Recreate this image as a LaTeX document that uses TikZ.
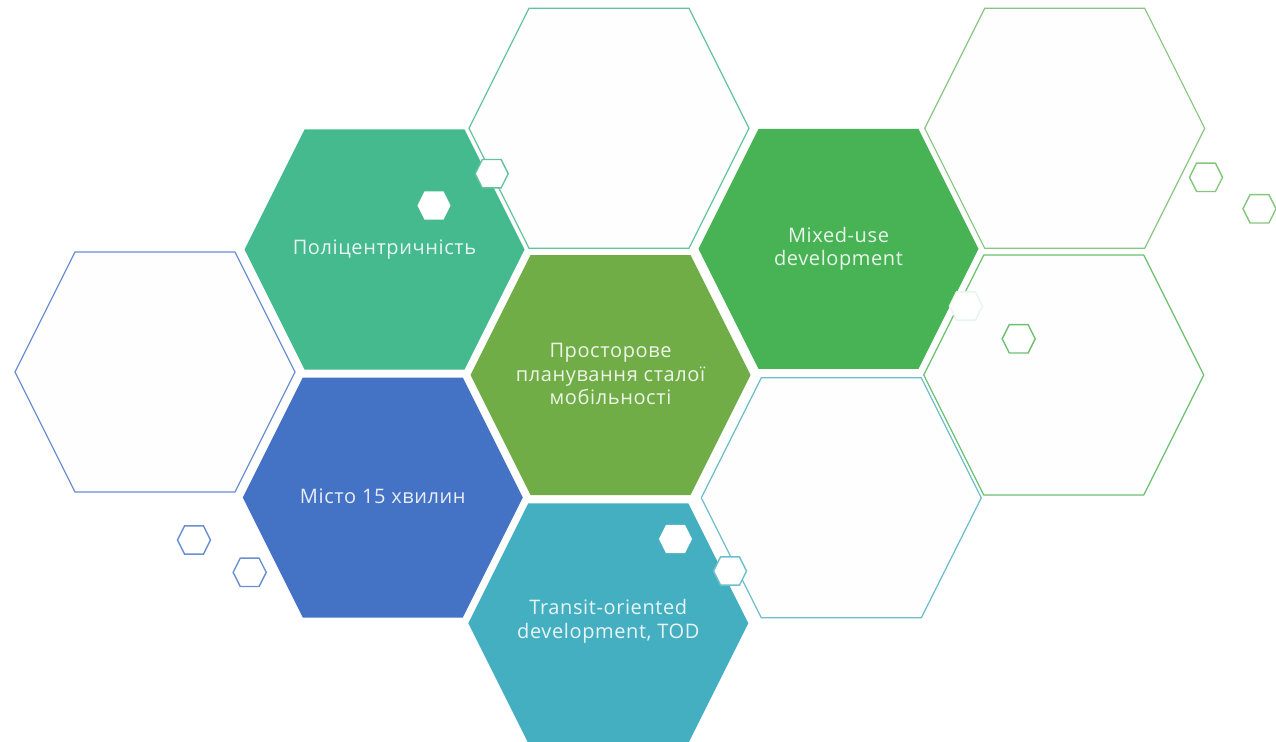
\documentclass[tikz,border=0pt]{standalone}
\usepackage{fontspec}
\setmainfont{Open Sans}[LetterSpace=3]

\definecolor{polyfill}{HTML}{44BA8E}
\definecolor{mixfill}{HTML}{47B354}
\definecolor{corefill}{HTML}{70AD47}
\definecolor{cityfill}{HTML}{4472C4}
\definecolor{todfill}{HTML}{44AFC1}
\definecolor{tealline}{HTML}{62C39E}
\definecolor{leafline}{HTML}{86C77E}
\definecolor{grassline}{HTML}{6CC070}
\definecolor{aqualine}{HTML}{6DBFCC}
\definecolor{blueline}{HTML}{6A8FD3}
\definecolor{paleline}{HTML}{EAF4EF}
\definecolor{paper}{HTML}{FEFEFE}

\begin{document}
\begin{tikzpicture}[x=1pt,y=-1pt,
  % flat-topped hexagon, 280 wide and 240 high
  hexa/.pic={\path[pic actions] (-140,0) -- (-80,-120) -- (80,-120)
     -- (140,0) -- (80,120) -- (-80,120) -- cycle;},
  bigfill/.style={fill=#1, draw=none},
  bigline/.style={draw=#1, line width=1.2pt, fill=paper},
  tiny/.style={scale=0.118},
  tinyline/.style={tiny, draw=#1, line width=1.4pt, fill=white},
  tinywhite/.style={tiny, fill=white, draw=none},
  caption/.style={text=white, text opacity=0.88, align=center,
     font=\fontsize{20}{23.5}\selectfont, inner sep=0pt}
]
\useasboundingbox (0,0) rectangle (1276,741);
\fill[white] (0,0) rectangle (1276,741);
\clip (0,0) rectangle (1276,741);

% outlined cells
\pic[bigline=blueline]  at (155,372)    {hexa};
\pic[bigline=tealline]  at (609,128.3)  {hexa};
\pic[bigline=leafline]  at (1064.7,128.3) {hexa};
\pic[bigline=grassline] at (1063.7,375) {hexa};
\pic[bigline=aqualine]  at (841.3,497.8) {hexa};

% filled cells
\pic[bigfill=polyfill] at (384.5,249.5) {hexa};
\pic[bigfill=mixfill]  at (838.5,248.8) {hexa};
\pic[bigfill=corefill] at (610.5,375)   {hexa};
\pic[bigfill=cityfill] at (382.8,497.5) {hexa};
\pic[bigfill=todfill]  at (608.3,623.3) {hexa};

% small accent hexagons
\pic[tinyline=paleline]  at (966,306)     {hexa};
\pic[tinywhite]          at (434,205.5)   {hexa};
\pic[tinyline=tealline]  at (491.7,173.7) {hexa};
\pic[tinyline=leafline]  at (1206,177.3)  {hexa};
\pic[tinyline=leafline]  at (1259.5,208.8) {hexa};
\pic[tinyline=grassline] at (1018.7,338.8) {hexa};
\pic[tinywhite]          at (675.5,539)   {hexa};
\pic[tinyline=aqualine]  at (730,571)     {hexa};
\pic[tinyline=blueline]  at (194,540)     {hexa};
\pic[tinyline=blueline]  at (249.7,572.3) {hexa};

% captions
\node[caption] (poly) at (384.5,249.5) {Поліцентричність};
\node[caption] (mix)  at (838.5,248.8) {Mixed-use\\development};
\node[caption] (core) at (610.5,374)   {Просторове\\планування сталої\\мобільності};
\node[caption] (city) at (382.8,496)   {Місто 15 хвилин};
\node[caption] (tod)  at (608.3,621.5) {Transit-oriented\\development, TOD};
\end{tikzpicture}
\end{document}
